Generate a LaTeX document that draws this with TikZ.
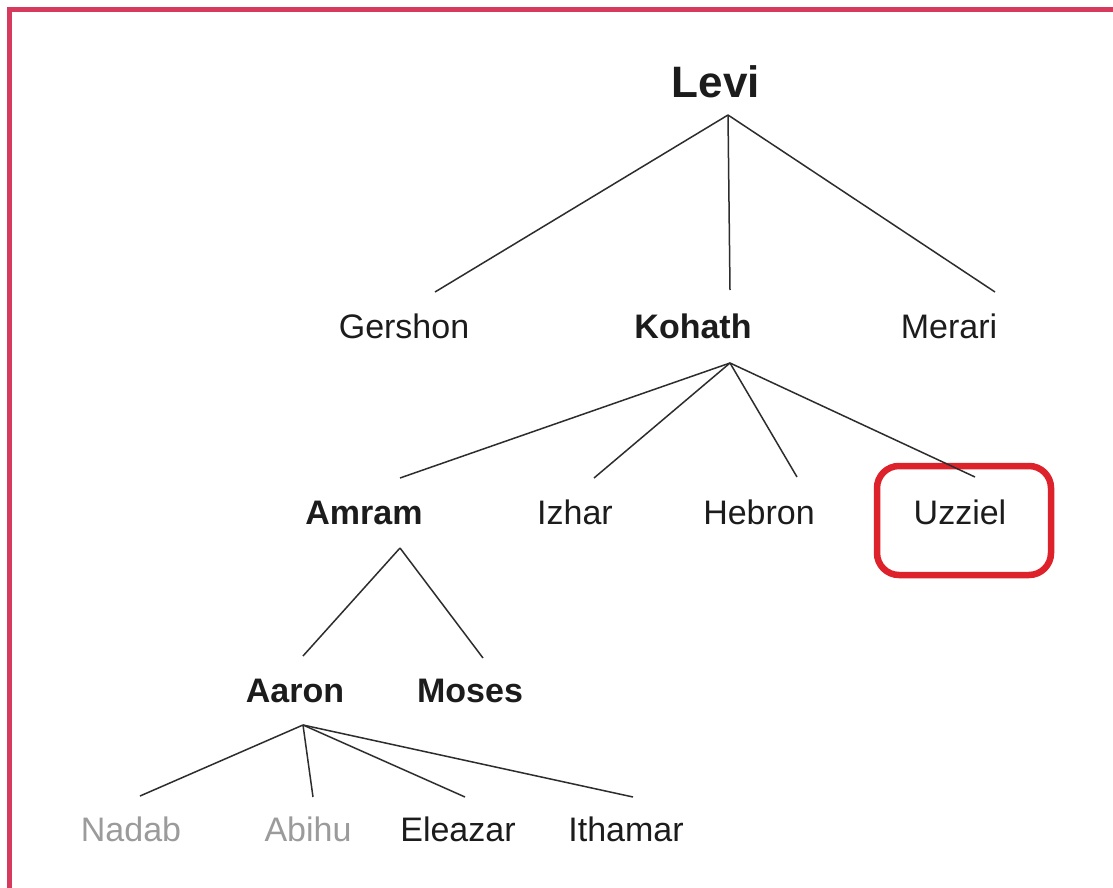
\documentclass[tikz,border=0pt]{standalone}
\usepackage{fontspec}
\setmainfont{Liberation Sans}
\definecolor{framecol}{RGB}{214,58,92}
\definecolor{hlcol}{RGB}{222,34,44}
\definecolor{txt}{RGB}{28,28,28}
\definecolor{dim}{RGB}{155,155,155}
\definecolor{linecol}{RGB}{45,45,45}
\begin{document}
\begin{tikzpicture}[x=1pt,y=-1pt,
  person/.style={anchor=base,inner sep=0pt,text=txt,font=\fontsize{34}{39}\selectfont},
  keyperson/.style={person,font=\fontsize{34}{39}\selectfont\bfseries},
  faded/.style={person,text=dim},
  link/.style={draw=linecol,line width=1.5pt},
  hlbox/.style={draw=hlcol,line width=6.5pt,rounded corners=22pt,minimum width=174pt,minimum height=109pt,inner sep=0pt},
  frame/.style={draw=framecol,line width=5pt}]
\useasboundingbox (0,0) rectangle (1113,888);
\fill[white] (0,0) rectangle (1113,888);
\draw[frame] (9.5,888) -- (9.5,9.5) -- (1113,9.5);

% nodes
\node[person,font=\fontsize{44}{50}\selectfont\bfseries] (levi) at (716,98) {Levi};
\node[person] (gershon) at (404,338) {Gershon};
\node[keyperson] (kohath) at (693,338) {Kohath};
\node[person] (merari) at (949,338) {Merari};
\node[keyperson] (amram) at (364,524) {Amram};
\node[person] (izhar) at (575,524) {Izhar};
\node[person] (hebron) at (759,524) {Hebron};
\node[person] (uzziel) at (960,524) {Uzziel};
\node[hlbox] (hl) at (964,520.5) {};
\node[keyperson] (aaron) at (295,702) {Aaron};
\node[keyperson] (moses) at (470,702) {Moses};
\node[faded] (nadab) at (131,841) {Nadab};
\node[faded] (abihu) at (308,841) {Abihu};
\node[person] (eleazar) at (458,841) {Eleazar};
\node[person] (ithamar) at (626,841) {Ithamar};

% connector end points
\coordinate (levi-b) at (728,115);
\coordinate (gershon-t) at (435,292);
\coordinate (kohath-t) at (730,290);
\coordinate (merari-t) at (995,292);
\coordinate (kohath-b) at (730,363);
\coordinate (amram-t) at (400,478);
\coordinate (izhar-t) at (594,478);
\coordinate (hebron-t) at (797,477);
\coordinate (uzziel-t) at (975,477);
\coordinate (amram-b) at (400,548);
\coordinate (aaron-t) at (303,656);
\coordinate (moses-t) at (483,658);
\coordinate (aaron-b) at (303,725);
\coordinate (nadab-t) at (140,796);
\coordinate (abihu-t) at (313,797);
\coordinate (eleazar-t) at (465,797);
\coordinate (ithamar-t) at (633,797);

\draw[link] (levi-b) -- (gershon-t);
\draw[link] (levi-b) -- (kohath-t);
\draw[link] (levi-b) -- (merari-t);
\draw[link] (kohath-b) -- (amram-t);
\draw[link] (kohath-b) -- (izhar-t);
\draw[link] (kohath-b) -- (hebron-t);
\draw[link] (kohath-b) -- (uzziel-t);
\draw[link] (amram-b) -- (aaron-t);
\draw[link] (amram-b) -- (moses-t);
\draw[link] (aaron-b) -- (nadab-t);
\draw[link] (aaron-b) -- (abihu-t);
\draw[link] (aaron-b) -- (eleazar-t);
\draw[link] (aaron-b) -- (ithamar-t);
\end{tikzpicture}
\end{document}
